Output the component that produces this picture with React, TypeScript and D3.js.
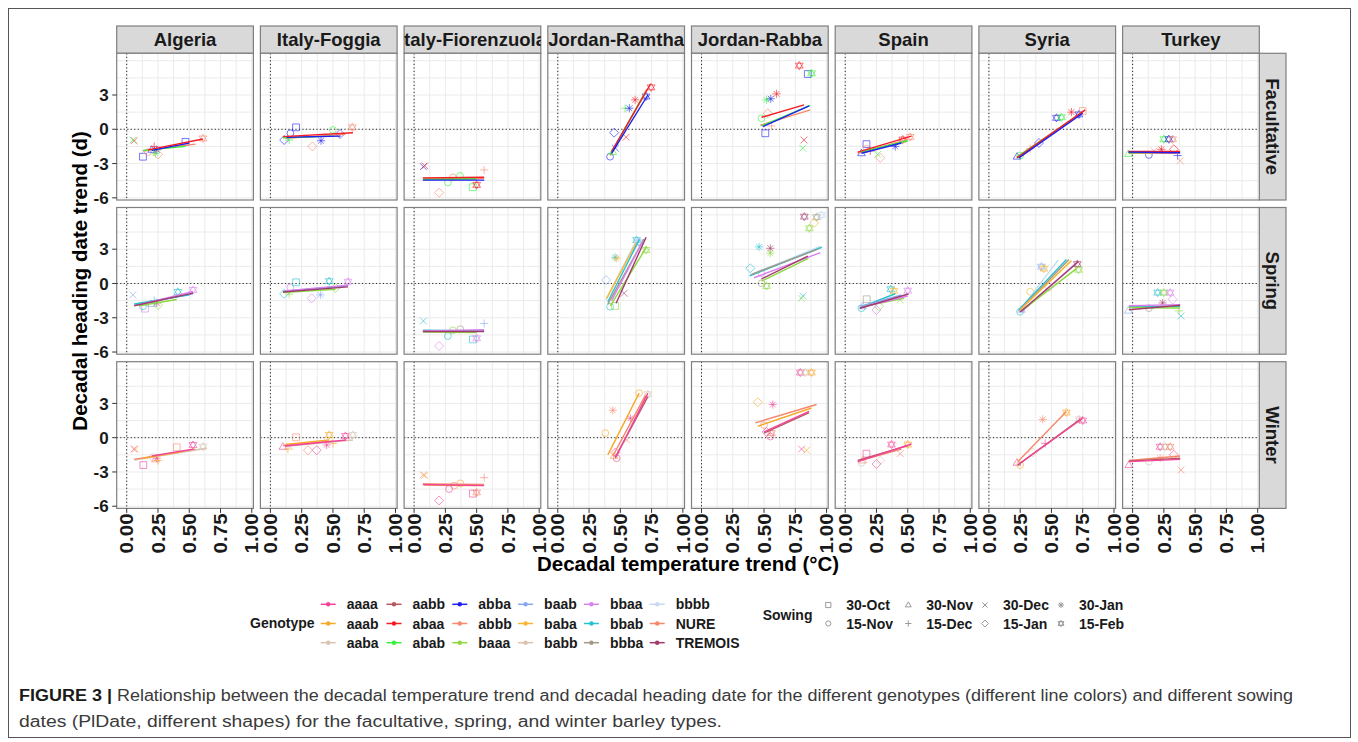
import React from 'react'
import * as d3 from 'd3'

// facets
const sites = ['Algeria', 'Italy-Foggia', 'Italy-Fiorenzuola', 'Jordan-Ramtha', 'Jordan-Rabba', 'Spain', 'Syria', 'Turkey']
const types = ['Facultative', 'Spring', 'Winter']

// legend: genotypes (filled column-wise, 3 rows) and sowing dates
const genotypes = ['aaaa', 'aaab', 'aaba', 'aabb', 'abaa', 'abab', 'abba', 'abbb', 'baaa', 'baab', 'baba', 'babb', 'bbaa', 'bbab', 'bbba', 'bbbb', 'NURE', 'TREMOIS']
const genotypeColors = ['#F2449B', '#F6A828', '#D9C4B2', '#B5585D', '#F21D24', '#36F03A', '#1F1FF0', '#F6896E', '#8BD93F', '#85A9EE', '#F8B531', '#DBC3AE', '#DA80EE', '#27C1CF', '#A29A87', '#C5DAF0', '#F5876A', '#A23A6E']
const sowings = ['30-Oct', '15-Nov', '30-Nov', '15-Dec', '30-Dec', '15-Jan', '30-Jan', '15-Feb']
const sowingShapes = ['square', 'circle', 'triangle', 'plus', 'cross', 'diamond', 'asterisk', 'star']

const xTicks = [0, 0.25, 0.5, 0.75, 1]
const yTicks = [-6, -3, 0, 3]

// [site, sowing, genotype, temperature trend, heading date trend]
type Pt = [string, string, string, number, number]
// [site, genotype, x1, y1, x2, y2]
type Ln = [string, string, number, number, number, number]

const facultativePoints: Pt[] = [
  ['Algeria', '30-Dec', 'abaa', 0.06, -1.0], ['Algeria', '30-Dec', 'abab', 0.05, -0.95],
  ['Algeria', '30-Oct', 'abba', 0.13, -2.4], ['Algeria', '15-Nov', 'abbb', 0.17, -2.0],
  ['Algeria', '30-Nov', 'abba', 0.2, -1.8], ['Algeria', '15-Dec', 'abaa', 0.22, -1.5],
  ['Algeria', '30-Jan', 'abba', 0.24, -1.8], ['Algeria', '30-Jan', 'abab', 0.23, -2.1],
  ['Algeria', '15-Jan', 'abbb', 0.25, -2.2], ['Algeria', '30-Oct', 'abba', 0.47, -1.1],
  ['Algeria', '15-Feb', 'abbb', 0.61, -0.8],
  ['Italy-Foggia', '15-Jan', 'abba', 0.11, -0.94], ['Italy-Foggia', '15-Dec', 'abab', 0.15, -0.94],
  ['Italy-Foggia', '15-Nov', 'abba', 0.16, -0.35], ['Italy-Foggia', '30-Oct', 'abba', 0.205, 0.17],
  ['Italy-Foggia', '15-Jan', 'abbb', 0.335, -1.5], ['Italy-Foggia', '30-Jan', 'abba', 0.405, -1.0],
  ['Italy-Foggia', '15-Nov', 'abab', 0.5, -0.06], ['Italy-Foggia', '15-Jan', 'abba', 0.557, -0.41],
  ['Italy-Foggia', '15-Feb', 'abbb', 0.655, 0.17],
  ['Italy-Fiorenzuola', '30-Dec', 'abba', 0.074, -3.27], ['Italy-Fiorenzuola', '30-Dec', 'abaa', 0.085, -3.2],
  ['Italy-Fiorenzuola', '15-Jan', 'abbb', 0.2, -5.55], ['Italy-Fiorenzuola', '15-Nov', 'abab', 0.27, -4.65],
  ['Italy-Fiorenzuola', '15-Nov', 'abbb', 0.31, -4.2], ['Italy-Fiorenzuola', '15-Nov', 'abab', 0.367, -4.08],
  ['Italy-Fiorenzuola', '30-Oct', 'abab', 0.469, -5.07], ['Italy-Fiorenzuola', '15-Feb', 'abaa', 0.5, -4.87],
  ['Italy-Fiorenzuola', '15-Dec', 'abbb', 0.56, -3.56],
  ['Jordan-Ramtha', '15-Nov', 'abba', 0.418, -2.4], ['Jordan-Ramtha', '30-Nov', 'abab', 0.44, -2.0],
  ['Jordan-Ramtha', '30-Dec', 'abba', 0.46, -1.65], ['Jordan-Ramtha', '15-Jan', 'abba', 0.45, -0.3],
  ['Jordan-Ramtha', '30-Dec', 'abaa', 0.546, -0.7], ['Jordan-Ramtha', '15-Dec', 'abab', 0.538, 1.84],
  ['Jordan-Ramtha', '30-Jan', 'abba', 0.572, 1.84], ['Jordan-Ramtha', '30-Jan', 'abaa', 0.618, 2.58],
  ['Jordan-Ramtha', '15-Feb', 'abba', 0.706, 2.87], ['Jordan-Ramtha', '15-Feb', 'abaa', 0.746, 3.67],
  ['Jordan-Rabba', '15-Feb', 'abaa', 0.782, 5.57], ['Jordan-Rabba', '30-Oct', 'abba', 0.85, 4.84],
  ['Jordan-Rabba', '15-Feb', 'abab', 0.88, 4.9], ['Jordan-Rabba', '30-Jan', 'abab', 0.52, 2.58],
  ['Jordan-Rabba', '30-Jan', 'abba', 0.554, 2.67], ['Jordan-Rabba', '30-Jan', 'abaa', 0.6, 3.1],
  ['Jordan-Rabba', '15-Nov', 'abab', 0.48, 0.96], ['Jordan-Rabba', '15-Jan', 'abbb', 0.53, 1.4],
  ['Jordan-Rabba', '30-Oct', 'abba', 0.51, -0.35], ['Jordan-Rabba', '30-Dec', 'abaa', 0.82, -0.94],
  ['Jordan-Rabba', '30-Dec', 'abab', 0.81, -1.66], ['Jordan-Rabba', '15-Dec', 'abbb', 0.56, 0.29],
  ['Spain', '30-Oct', 'abba', 0.17, -1.3], ['Spain', '15-Nov', 'abbb', 0.17, -1.7],
  ['Spain', '30-Nov', 'abba', 0.13, -2.1], ['Spain', '15-Dec', 'abaa', 0.2, -1.9],
  ['Spain', '30-Dec', 'abab', 0.26, -2.2], ['Spain', '15-Jan', 'abbb', 0.28, -2.5],
  ['Spain', '30-Jan', 'abba', 0.4, -1.5], ['Spain', '15-Feb', 'abaa', 0.46, -0.9],
  ['Spain', '15-Feb', 'abbb', 0.52, -0.67],
  ['Syria', '30-Nov', 'abba', 0.225, -2.4], ['Syria', '15-Nov', 'abab', 0.25, -2.3],
  ['Syria', '15-Dec', 'abbb', 0.33, -1.7], ['Syria', '15-Jan', 'abba', 0.4, -1.2],
  ['Syria', '15-Feb', 'abba', 0.54, 1.0], ['Syria', '15-Feb', 'abab', 0.58, 1.05],
  ['Syria', '30-Jan', 'abaa', 0.66, 1.5], ['Syria', '15-Feb', 'abba', 0.72, 1.3],
  ['Syria', '30-Oct', 'abbb', 0.75, 1.6],
  ['Turkey', '30-Nov', 'abab', -0.034, -2.16], ['Turkey', '15-Nov', 'abba', 0.13, -2.25],
  ['Turkey', '30-Dec', 'abbb', 0.17, -1.9], ['Turkey', '30-Jan', 'abaa', 0.23, -1.75],
  ['Turkey', '15-Feb', 'abab', 0.25, -0.87], ['Turkey', '15-Feb', 'abba', 0.29, -0.87],
  ['Turkey', '15-Feb', 'abbb', 0.32, -0.87], ['Turkey', '15-Jan', 'abaa', 0.33, -1.75],
  ['Turkey', '15-Dec', 'abba', 0.36, -2.3], ['Turkey', '30-Dec', 'abbb', 0.38, -2.75],
]

const springPoints: Pt[] = [
  ['Algeria', '30-Dec', 'baab', 0.05, -1.0], ['Algeria', '30-Oct', 'bbaa', 0.146, -2.2],
  ['Algeria', '15-Nov', 'bbab', 0.13, -2.0], ['Algeria', '30-Nov', 'baab', 0.2, -1.8],
  ['Algeria', '15-Dec', 'bbab', 0.22, -1.5], ['Algeria', '30-Jan', 'TREMOIS', 0.24, -1.7],
  ['Algeria', '15-Jan', 'baaa', 0.25, -1.9], ['Algeria', '15-Feb', 'bbab', 0.41, -0.74],
  ['Algeria', '15-Feb', 'bbaa', 0.53, -0.57],
  ['Italy-Foggia', '15-Jan', 'bbab', 0.11, -0.9], ['Italy-Foggia', '15-Dec', 'baaa', 0.15, -0.94],
  ['Italy-Foggia', '15-Nov', 'bbaa', 0.16, -0.35], ['Italy-Foggia', '30-Oct', 'bbab', 0.205, 0.1],
  ['Italy-Foggia', '15-Jan', 'bbaa', 0.33, -1.3], ['Italy-Foggia', '30-Jan', 'baab', 0.4, -1.0],
  ['Italy-Foggia', '15-Feb', 'bbab', 0.47, 0.2], ['Italy-Foggia', '15-Jan', 'baaa', 0.52, -0.4],
  ['Italy-Foggia', '15-Feb', 'bbaa', 0.62, 0.15],
  ['Italy-Fiorenzuola', '30-Dec', 'bbab', 0.074, -3.28], ['Italy-Fiorenzuola', '15-Jan', 'bbaa', 0.2, -5.47],
  ['Italy-Fiorenzuola', '15-Nov', 'bbab', 0.27, -4.6], ['Italy-Fiorenzuola', '15-Nov', 'baaa', 0.31, -4.1],
  ['Italy-Fiorenzuola', '15-Nov', 'bbba', 0.37, -4.0], ['Italy-Fiorenzuola', '30-Oct', 'bbab', 0.47, -4.9],
  ['Italy-Fiorenzuola', '15-Feb', 'bbaa', 0.5, -4.8], ['Italy-Fiorenzuola', '15-Dec', 'baab', 0.56, -3.5],
  ['Jordan-Ramtha', '30-Jan', 'bbab', 0.458, 2.29], ['Jordan-Ramtha', '30-Jan', 'baba', 0.47, 2.2],
  ['Jordan-Ramtha', '15-Jan', 'baab', 0.386, 0.3], ['Jordan-Ramtha', '15-Nov', 'bbab', 0.418, -2.03],
  ['Jordan-Ramtha', '30-Oct', 'baaa', 0.458, -1.97], ['Jordan-Ramtha', '30-Dec', 'TREMOIS', 0.53, -0.86],
  ['Jordan-Ramtha', '15-Feb', 'bbab', 0.63, 3.8], ['Jordan-Ramtha', '15-Feb', 'baab', 0.65, 3.6],
  ['Jordan-Ramtha', '15-Feb', 'baaa', 0.706, 2.93],
  ['Jordan-Rabba', '15-Feb', 'TREMOIS', 0.822, 5.85], ['Jordan-Rabba', '15-Feb', 'bbba', 0.92, 5.8],
  ['Jordan-Rabba', '15-Feb', 'bbbb', 0.96, 6.0], ['Jordan-Rabba', '15-Jan', 'baba', 0.9, 5.3],
  ['Jordan-Rabba', '15-Feb', 'baaa', 0.862, 4.83], ['Jordan-Rabba', '30-Jan', 'bbab', 0.46, 3.2],
  ['Jordan-Rabba', '30-Jan', 'TREMOIS', 0.55, 3.08], ['Jordan-Rabba', '30-Jan', 'baaa', 0.55, 2.65],
  ['Jordan-Rabba', '15-Jan', 'bbab', 0.39, 1.33], ['Jordan-Rabba', '15-Nov', 'bbaa', 0.48, 0.9],
  ['Jordan-Rabba', '15-Nov', 'bbba', 0.48, 0.02], ['Jordan-Rabba', '15-Feb', 'baaa', 0.52, -0.22],
  ['Jordan-Rabba', '30-Dec', 'bbab', 0.81, -1.1], ['Jordan-Rabba', '30-Dec', 'baaa', 0.8, -1.3],
  ['Spain', '30-Oct', 'bbba', 0.172, -1.38], ['Spain', '15-Nov', 'bbab', 0.13, -2.17],
  ['Spain', '30-Nov', 'baab', 0.14, -2.0], ['Spain', '15-Jan', 'bbaa', 0.25, -2.32],
  ['Spain', '15-Jan', 'baaa', 0.27, -2.0], ['Spain', '15-Feb', 'bbab', 0.364, -0.5],
  ['Spain', '15-Feb', 'baba', 0.39, -0.65], ['Spain', '30-Dec', 'baaa', 0.44, -1.44],
  ['Spain', '15-Feb', 'bbaa', 0.5, -0.63],
  ['Syria', '15-Feb', 'baab', 0.42, 1.47], ['Syria', '15-Feb', 'baba', 0.44, 1.3],
  ['Syria', '15-Nov', 'baba', 0.33, -0.72], ['Syria', '15-Nov', 'bbab', 0.249, -2.47],
  ['Syria', '30-Nov', 'baab', 0.26, -2.3], ['Syria', '15-Feb', 'TREMOIS', 0.707, 1.7],
  ['Syria', '15-Feb', 'baaa', 0.717, 1.2], ['Syria', '15-Jan', 'bbaa', 0.48, -0.3],
  ['Turkey', '30-Nov', 'baab', -0.034, -2.38], ['Turkey', '15-Feb', 'bbab', 0.2, -0.8],
  ['Turkey', '15-Feb', 'baaa', 0.25, -0.8], ['Turkey', '15-Feb', 'bbaa', 0.3, -0.8],
  ['Turkey', '15-Jan', 'bbaa', 0.32, -1.4], ['Turkey', '15-Nov', 'bbba', 0.13, -2.16],
  ['Turkey', '30-Jan', 'TREMOIS', 0.24, -1.7], ['Turkey', '30-Dec', 'bbab', 0.387, -2.85],
  ['Turkey', '15-Dec', 'baaa', 0.37, -2.4],
]

const winterPoints: Pt[] = [
  ['Algeria', '30-Dec', 'aaaa', 0.058, -1.0], ['Algeria', '30-Dec', 'aaab', 0.07, -1.0],
  ['Algeria', '30-Oct', 'aaaa', 0.133, -2.4], ['Algeria', '15-Nov', 'aaba', 0.21, -1.7],
  ['Algeria', '30-Nov', 'NURE', 0.23, -1.9], ['Algeria', '30-Jan', 'aaaa', 0.24, -1.8],
  ['Algeria', '15-Dec', 'aaab', 0.25, -2.0], ['Algeria', '30-Oct', 'NURE', 0.4, -0.84],
  ['Algeria', '15-Feb', 'aaaa', 0.53, -0.64], ['Algeria', '15-Feb', 'aaba', 0.61, -0.79],
  ['Italy-Foggia', '30-Nov', 'aaaa', 0.1, -0.8], ['Italy-Foggia', '15-Dec', 'aaab', 0.14, -1.0],
  ['Italy-Foggia', '30-Dec', 'aaba', 0.16, -0.8], ['Italy-Foggia', '30-Oct', 'NURE', 0.205, 0.03],
  ['Italy-Foggia', '15-Jan', 'NURE', 0.3, -1.1], ['Italy-Foggia', '15-Jan', 'aaaa', 0.37, -1.1],
  ['Italy-Foggia', '30-Jan', 'aaaa', 0.45, -0.64], ['Italy-Foggia', '15-Feb', 'aaab', 0.47, 0.24],
  ['Italy-Foggia', '15-Dec', 'aaab', 0.5, -0.5], ['Italy-Foggia', '15-Feb', 'aaaa', 0.6, 0.15],
  ['Italy-Foggia', '15-Feb', 'aaba', 0.66, 0.24],
  ['Italy-Fiorenzuola', '30-Dec', 'NURE', 0.074, -3.26], ['Italy-Fiorenzuola', '30-Dec', 'aaab', 0.085, -3.3],
  ['Italy-Fiorenzuola', '15-Jan', 'aaaa', 0.2, -5.5], ['Italy-Fiorenzuola', '15-Nov', 'aaaa', 0.28, -4.5],
  ['Italy-Fiorenzuola', '15-Nov', 'NURE', 0.32, -4.2], ['Italy-Fiorenzuola', '15-Nov', 'aaab', 0.37, -4.0],
  ['Italy-Fiorenzuola', '30-Oct', 'aaaa', 0.47, -4.9], ['Italy-Fiorenzuola', '15-Feb', 'NURE', 0.5, -4.8],
  ['Italy-Fiorenzuola', '15-Dec', 'NURE', 0.56, -3.5],
  ['Jordan-Ramtha', '15-Nov', 'aaab', 0.38, 0.4], ['Jordan-Ramtha', '30-Jan', 'NURE', 0.44, 2.4],
  ['Jordan-Ramtha', '15-Jan', 'aaaa', 0.46, -1.3], ['Jordan-Ramtha', '15-Nov', 'aaaa', 0.47, -1.8],
  ['Jordan-Ramtha', '30-Nov', 'aaab', 0.45, -1.6], ['Jordan-Ramtha', '30-Jan', 'aaaa', 0.58, 1.7],
  ['Jordan-Ramtha', '15-Nov', 'aaab', 0.65, 3.9], ['Jordan-Ramtha', '15-Feb', 'aaba', 0.72, 3.8],
  ['Jordan-Ramtha', '30-Dec', 'NURE', 0.55, -0.2],
  ['Jordan-Rabba', '15-Feb', 'aaaa', 0.79, 5.7], ['Jordan-Rabba', '15-Feb', 'aaba', 0.83, 5.7],
  ['Jordan-Rabba', '15-Feb', 'aaab', 0.88, 5.7], ['Jordan-Rabba', '15-Jan', 'aaab', 0.45, 3.1],
  ['Jordan-Rabba', '30-Jan', 'aaaa', 0.57, 2.9], ['Jordan-Rabba', '15-Nov', 'NURE', 0.5, 1.1],
  ['Jordan-Rabba', '15-Jan', 'aaaa', 0.52, 0.5], ['Jordan-Rabba', '15-Nov', 'aaaa', 0.55, 0.1],
  ['Jordan-Rabba', '15-Feb', 'NURE', 0.56, 0.4], ['Jordan-Rabba', '30-Dec', 'aaab', 0.84, -1.1],
  ['Jordan-Rabba', '30-Dec', 'aaaa', 0.8, -1.0],
  ['Spain', '30-Oct', 'aaaa', 0.17, -1.4], ['Spain', '15-Nov', 'aaba', 0.13, -2.2],
  ['Spain', '30-Nov', 'NURE', 0.14, -2.0], ['Spain', '15-Jan', 'aaaa', 0.25, -2.3],
  ['Spain', '15-Jan', 'aaba', 0.28, -2.0], ['Spain', '15-Feb', 'aaaa', 0.37, -0.6],
  ['Spain', '30-Dec', 'NURE', 0.44, -1.4], ['Spain', '15-Feb', 'aaab', 0.5, -0.6],
  ['Syria', '30-Nov', 'aaaa', 0.225, -2.2], ['Syria', '15-Nov', 'aaab', 0.25, -2.4],
  ['Syria', '15-Jan', 'aaba', 0.35, -1.3], ['Syria', '30-Jan', 'NURE', 0.43, 1.6],
  ['Syria', '15-Dec', 'aaaa', 0.45, -0.5], ['Syria', '15-Feb', 'aaab', 0.62, 2.2],
  ['Syria', '15-Feb', 'aaba', 0.72, 1.6], ['Syria', '15-Feb', 'aaaa', 0.75, 1.5],
  ['Turkey', '30-Nov', 'aaaa', -0.03, -2.4], ['Turkey', '15-Nov', 'aaba', 0.13, -2.1],
  ['Turkey', '30-Jan', 'NURE', 0.22, -1.8], ['Turkey', '15-Feb', 'aaaa', 0.22, -0.8],
  ['Turkey', '15-Feb', 'aaba', 0.26, -0.8], ['Turkey', '15-Feb', 'NURE', 0.3, -0.8],
  ['Turkey', '15-Jan', 'aaaa', 0.33, -1.5], ['Turkey', '30-Dec', 'NURE', 0.387, -2.83],
]

const facultativeLines: Ln[] = [
  ['Algeria', 'abbb', 0.13, -1.9, 0.55, -1.3], ['Algeria', 'abab', 0.13, -1.85, 0.47, -1.5],
  ['Algeria', 'abba', 0.2, -1.85, 0.5, -1.2], ['Algeria', 'abaa', 0.17, -1.8, 0.61, -0.85],
  ['Italy-Foggia', 'abbb', 0.12, -0.8, 0.6, -0.45], ['Italy-Foggia', 'abab', 0.1, -0.75, 0.5, -0.6],
  ['Italy-Foggia', 'abba', 0.13, -0.7, 0.56, -0.6], ['Italy-Foggia', 'abaa', 0.1, -0.64, 0.66, -0.3],
  ['Italy-Fiorenzuola', 'abbb', 0.07, -4.3, 0.56, -4.3], ['Italy-Fiorenzuola', 'abab', 0.07, -4.4, 0.5, -4.35],
  ['Italy-Fiorenzuola', 'abba', 0.07, -4.45, 0.56, -4.45], ['Italy-Fiorenzuola', 'abaa', 0.07, -4.25, 0.56, -4.2],
  ['Jordan-Ramtha', 'abbb', 0.42, -2.3, 0.71, 3.5], ['Jordan-Ramtha', 'abab', 0.42, -2.2, 0.7, 3.2],
  ['Jordan-Ramtha', 'abaa', 0.43, -1.96, 0.74, 3.94], ['Jordan-Ramtha', 'abba', 0.43, -2.1, 0.72, 3.0],
  ['Jordan-Rabba', 'abbb', 0.47, 0.35, 0.87, 1.7], ['Jordan-Rabba', 'abab', 0.48, 0.3, 0.87, 2.1],
  ['Jordan-Rabba', 'abba', 0.49, 0.23, 0.86, 2.04], ['Jordan-Rabba', 'abaa', 0.48, 1.05, 0.82, 2.13],
  ['Spain', 'abbb', 0.1, -2.1, 0.5, -0.9], ['Spain', 'abab', 0.12, -2.0, 0.5, -1.0],
  ['Spain', 'abba', 0.13, -2.1, 0.45, -1.2], ['Spain', 'abaa', 0.1, -2.0, 0.53, -0.6],
  ['Syria', 'abbb', 0.22, -2.45, 0.76, 1.6], ['Syria', 'abab', 0.23, -2.4, 0.73, 1.3],
  ['Syria', 'abaa', 0.225, -2.5, 0.77, 1.7], ['Syria', 'abba', 0.24, -2.5, 0.75, 1.4],
  ['Turkey', 'abbb', -0.03, -2.1, 0.38, -2.1], ['Turkey', 'abab', -0.034, -2.05, 0.38, -2.0],
  ['Turkey', 'abaa', -0.034, -1.95, 0.38, -1.95], ['Turkey', 'abba', -0.034, -2.0, 0.38, -2.05],
]

const springLines: Ln[] = [
  ['Algeria', 'baab', 0.06, -1.9, 0.53, -0.9], ['Algeria', 'bbab', 0.06, -1.8, 0.5, -1.0],
  ['Algeria', 'baaa', 0.1, -1.95, 0.4, -1.4], ['Algeria', 'bbaa', 0.1, -1.85, 0.53, -0.7],
  ['Algeria', 'TREMOIS', 0.06, -1.95, 0.53, -0.85],
  ['Italy-Foggia', 'bbab', 0.1, -0.7, 0.62, -0.2], ['Italy-Foggia', 'baaa', 0.1, -0.8, 0.52, -0.5],
  ['Italy-Foggia', 'bbaa', 0.11, -0.65, 0.62, -0.15], ['Italy-Foggia', 'TREMOIS', 0.1, -0.75, 0.62, -0.3],
  ['Italy-Fiorenzuola', 'bbab', 0.07, -4.1, 0.56, -4.15], ['Italy-Fiorenzuola', 'baaa', 0.07, -4.25, 0.5, -4.3],
  ['Italy-Fiorenzuola', 'bbaa', 0.07, -4.15, 0.56, -4.05], ['Italy-Fiorenzuola', 'TREMOIS', 0.07, -4.2, 0.56, -4.2],
  ['Jordan-Ramtha', 'bbbb', 0.386, -1.44, 0.636, 3.95], ['Jordan-Ramtha', 'baba', 0.39, -1.3, 0.63, 3.6],
  ['Jordan-Ramtha', 'bbab', 0.4, -1.6, 0.65, 3.8], ['Jordan-Ramtha', 'bbba', 0.4, -1.8, 0.69, 3.9],
  ['Jordan-Ramtha', 'bbaa', 0.43, -1.5, 0.68, 3.7], ['Jordan-Ramtha', 'baaa', 0.42, -1.97, 0.71, 3.2],
  ['Jordan-Ramtha', 'TREMOIS', 0.466, -1.73, 0.706, 4.04],
  ['Jordan-Rabba', 'bbbb', 0.38, 0.7, 0.95, 3.25], ['Jordan-Rabba', 'bbab', 0.386, 0.66, 0.962, 3.17],
  ['Jordan-Rabba', 'bbba', 0.4, 0.8, 0.93, 3.0], ['Jordan-Rabba', 'bbaa', 0.42, 0.5, 0.95, 2.7],
  ['Jordan-Rabba', 'baaa', 0.48, 0.2, 0.854, 2.2], ['Jordan-Rabba', 'TREMOIS', 0.48, 0.4, 0.85, 2.4],
  ['Spain', 'bbab', 0.12, -2.1, 0.4, -0.9], ['Spain', 'baab', 0.12, -2.0, 0.45, -1.0],
  ['Spain', 'baaa', 0.15, -2.0, 0.47, -1.3], ['Spain', 'bbaa', 0.13, -2.1, 0.5, -1.1],
  ['Spain', 'TREMOIS', 0.118, -2.17, 0.505, -0.92],
  ['Syria', 'bbbb', 0.24, -2.47, 0.555, 2.06], ['Syria', 'bbab', 0.24, -2.3, 0.62, 2.1],
  ['Syria', 'bbba', 0.24, -2.4, 0.64, 2.1], ['Syria', 'baba', 0.25, -2.3, 0.66, 2.0],
  ['Syria', 'bbaa', 0.26, -2.5, 0.69, 1.7], ['Syria', 'baaa', 0.26, -2.4, 0.7, 1.3],
  ['Syria', 'TREMOIS', 0.25, -2.5, 0.715, 1.9],
  ['Turkey', 'bbab', -0.03, -2.0, 0.38, -2.0], ['Turkey', 'baaa', -0.03, -2.1, 0.38, -2.15],
  ['Turkey', 'bbaa', -0.03, -1.95, 0.38, -1.85], ['Turkey', 'TREMOIS', -0.03, -2.3, 0.38, -1.9],
]

const winterLines: Ln[] = [
  ['Algeria', 'aaba', 0.06, -1.95, 0.64, -0.93], ['Algeria', 'NURE', 0.06, -1.9, 0.55, -1.0],
  ['Algeria', 'aaab', 0.13, -1.8, 0.45, -1.2], ['Algeria', 'aaaa', 0.2, -1.6, 0.53, -1.0],
  ['Italy-Foggia', 'aaba', 0.12, -0.75, 0.66, -0.2], ['Italy-Foggia', 'aaab', 0.12, -0.6, 0.47, -0.2],
  ['Italy-Foggia', 'NURE', 0.1, -0.7, 0.5, -0.3], ['Italy-Foggia', 'aaaa', 0.117, -0.73, 0.605, -0.2],
  ['Italy-Fiorenzuola', 'aaab', 0.08, -4.15, 0.5, -4.2], ['Italy-Fiorenzuola', 'NURE', 0.07, -4.05, 0.56, -4.1],
  ['Italy-Fiorenzuola', 'aaaa', 0.07, -4.1, 0.56, -4.2],
  ['Jordan-Ramtha', 'aaab', 0.4, -1.5, 0.65, 3.9], ['Jordan-Ramtha', 'NURE', 0.44, -1.6, 0.7, 3.7],
  ['Jordan-Ramtha', 'aabb', 0.46, -1.7, 0.72, 3.6], ['Jordan-Ramtha', 'aaaa', 0.46, -1.8, 0.72, 3.9],
  ['Jordan-Rabba', 'NURE', 0.43, 1.3, 0.92, 2.9], ['Jordan-Rabba', 'aaab', 0.45, 1.0, 0.88, 2.6],
  ['Jordan-Rabba', 'aabb', 0.5, 0.4, 0.86, 2.2], ['Jordan-Rabba', 'aaaa', 0.5, 0.5, 0.86, 2.3],
  ['Spain', 'NURE', 0.12, -2.0, 0.45, -1.0], ['Spain', 'aabb', 0.1, -2.0, 0.5, -0.7],
  ['Spain', 'aaaa', 0.1, -2.1, 0.53, -0.55],
  ['Syria', 'NURE', 0.23, -2.1, 0.62, 2.3], ['Syria', 'aabb', 0.23, -2.4, 0.73, 1.6],
  ['Syria', 'aaaa', 0.24, -2.3, 0.75, 1.7],
  ['Turkey', 'NURE', -0.03, -2.0, 0.38, -1.6], ['Turkey', 'aabb', -0.03, -2.05, 0.38, -1.8],
  ['Turkey', 'aaaa', -0.03, -2.1, 0.38, -1.9],
]

const pointsByType = [facultativePoints, springPoints, winterPoints]
const linesByType = [facultativeLines, springLines, winterLines]

// layout
const W = 1358
const H = 742
const panelX0 = 116.7
const panelY0 = 53.3
const panelW = 136.7
const panelH = 146.7
const gapX = 7
const gapY = 7.5
const stripH = 27.3
const rightStripW = 26.7

const FONT = 'Liberation Sans, Arial, Helvetica, sans-serif'

const colorOf = (g: string) => genotypeColors[genotypes.indexOf(g)]

function shapePath(shape: string, s: number) {
  const t = s * 1.2
  switch (shape) {
    case 'square':
      return `M${-s},${-s}h${2 * s}v${2 * s}h${-2 * s}Z`
    case 'circle':
      return `M${-s},0a${s},${s} 0 1,0 ${2 * s},0a${s},${s} 0 1,0 ${-2 * s},0`
    case 'triangle':
      return `M0,${-t}L${t * 0.95},${t * 0.6}L${-t * 0.95},${t * 0.6}Z`
    case 'plus':
      return `M${-t},0H${t}M0,${-t}V${t}`
    case 'cross':
      return `M${-s},${-s}L${s},${s}M${-s},${s}L${s},${-s}`
    case 'diamond':
      return `M0,${-t * 1.1}L${t * 1.1},0L0,${t * 1.1}L${-t * 1.1},0Z`
    case 'asterisk': {
      const c = s * 0.85
      return `M${-t},0H${t}M0,${-t}V${t}M${-c},${-c}L${c},${c}M${-c},${c}L${c},${-c}`
    }
    default:
      return `M0,${-t}L${t * 0.95},${t * 0.6}L${-t * 0.95},${t * 0.6}ZM0,${t}L${t * 0.95},${-t * 0.6}L${-t * 0.95},${-t * 0.6}Z`
  }
}

export default function App() {
  const x = d3.scaleLinear().domain([-0.08, 1.013]).range([0, panelW])
  const y = d3.scaleLinear().domain([-6.19, 6.65]).range([panelH, 0])

  const minorX = d3.range(0, 1.001, 0.125)
  const minorY = d3.range(-6, 6.01, 1.5)

  const colLeft = (c: number) => panelX0 + c * (panelW + gapX)
  const rowTop = (r: number) => panelY0 + r * (panelH + gapY)
  const bottom = rowTop(2) + panelH
  const panelsMidY = (panelY0 + bottom) / 2

  const legendCols = d3.range(6)
  const legendRows = d3.range(3)

  return (
    <div style={{ position: 'absolute', left: 0, top: 0 }}>
      <svg width={W} height={H} style={{ display: 'block', background: '#fff' }} fontFamily={FONT}>
        <defs>
          <clipPath id="panelClip">
            <rect x={0} y={0} width={panelW} height={panelH} />
          </clipPath>
          <clipPath id="stripClip">
            <rect x={0} y={0} width={panelW} height={stripH} />
          </clipPath>
        </defs>

        {/* figure frame */}
        <rect x={8.5} y={8.5} width={1342} height={729} fill="none" stroke="#555" strokeWidth={1} />

        {/* top strips */}
        {sites.map((s, c) => (
          <g key={s} transform={`translate(${colLeft(c)},${panelY0 - stripH})`}>
            <rect width={panelW} height={stripH} fill="#D9D9D9" stroke="#7F7F7F" strokeWidth={1.2} />
            <g clipPath="url(#stripClip)">
              <text x={panelW / 2} y={stripH / 2} dy="0.36em" textAnchor="middle" fontSize={18.5} fontWeight="bold" fill="#1a1a1a">{s}</text>
            </g>
          </g>
        ))}

        {/* right strips */}
        {types.map((t, r) => (
          <g key={t} transform={`translate(${colLeft(7) + panelW},${rowTop(r)})`}>
            <rect width={rightStripW} height={panelH} fill="#D9D9D9" stroke="#7F7F7F" strokeWidth={1.2} />
            <text transform={`translate(${rightStripW / 2},${panelH / 2}) rotate(90)`} dy="0.36em" textAnchor="middle" fontSize={18.5} fontWeight="bold" fill="#1a1a1a">{t}</text>
          </g>
        ))}

        {/* panels */}
        {types.map((t, r) =>
          sites.map((s, c) => {
            const pts = pointsByType[r].filter(p => p[0] === s)
            const lns = linesByType[r].filter(l => l[0] === s)
            return (
              <g key={`${t}-${s}`} transform={`translate(${colLeft(c)},${rowTop(r)})`}>
                <rect width={panelW} height={panelH} fill="#fff" />
                {minorX.map(v => (
                  <line key={`gx${v}`} x1={x(v)} x2={x(v)} y1={0} y2={panelH} stroke="#EBEBEB" strokeWidth={1} />
                ))}
                {minorY.map(v => (
                  <line key={`gy${v}`} x1={0} x2={panelW} y1={y(v)} y2={y(v)} stroke="#EBEBEB" strokeWidth={1} />
                ))}
                <line x1={x(0)} x2={x(0)} y1={0} y2={panelH} stroke="#222" strokeWidth={1} strokeDasharray="1.2,2.3" />
                <line x1={0} x2={panelW} y1={y(0)} y2={y(0)} stroke="#222" strokeWidth={1} strokeDasharray="1.2,2.3" />
                <g clipPath="url(#panelClip)">
                  {pts.map((p, i) => (
                    <path key={`p${i}`} transform={`translate(${x(p[3])},${y(p[4])})`}
                      d={shapePath(sowingShapes[sowings.indexOf(p[1])], 3.4)}
                      fill="none" stroke={colorOf(p[2])} strokeWidth={1} strokeOpacity={0.6} />
                  ))}
                  {lns.map((l, i) => (
                    <line key={`l${i}`} x1={x(l[2])} y1={y(l[3])} x2={x(l[4])} y2={y(l[5])}
                      stroke={colorOf(l[1])} strokeWidth={1.4} />
                  ))}
                </g>
                <rect width={panelW} height={panelH} fill="none" stroke="#7F7F7F" strokeWidth={1.2} />
              </g>
            )
          })
        )}

        {/* y axis */}
        {types.map((t, r) => (
          <g key={`ya${t}`} transform={`translate(${panelX0},${rowTop(r)})`}>
            {yTicks.map(v => (
              <g key={v} transform={`translate(0,${y(v)})`}>
                <line x1={-4.5} x2={0} stroke="#333" strokeWidth={1} />
                <text x={-8} dy="0.36em" textAnchor="end" fontSize={17} fontWeight="bold" fill="#1a1a1a">{v}</text>
              </g>
            ))}
          </g>
        ))}

        {/* x axes */}
        {sites.map((s, c) => (
          <g key={`xa${s}`} transform={`translate(${colLeft(c)},${bottom})`}>
            {xTicks.map(v => (
              <g key={v} transform={`translate(${x(v)},0)`}>
                <line y1={0} y2={4.5} stroke="#333" strokeWidth={1} />
                <text transform="translate(0,5) rotate(-90)" dy="0.36em" textAnchor="end" fontSize={18.5} fontWeight="bold" fill="#1a1a1a"
                  textLength={40} lengthAdjust="spacingAndGlyphs">{d3.format('.2f')(v)}</text>
              </g>
            ))}
          </g>
        ))}

        {/* axis titles */}
        <text x={688} y={564} dy="0.36em" textAnchor="middle" fontSize={20.5} fontWeight="bold" fill="#000">Decadal temperature trend (°C)</text>
        <text transform={`translate(80,${panelsMidY}) rotate(-90)`} dy="0.36em" textAnchor="middle" fontSize={20.5} fontWeight="bold" fill="#000">Decadal heading date trend (d)</text>

        {/* genotype legend */}
        <text x={250} y={623.3} dy="0.36em" fontSize={14} fontWeight="bold" fill="#1a1a1a">Genotype</text>
        {legendCols.map(c =>
          legendRows.map(r => {
            const g = genotypes[c * 3 + r]
            const lx = 346.7 + c * 65.8
            const ly = 604.3 + r * 19.2
            return (
              <g key={g}>
                <line x1={lx - 26} x2={lx - 11} y1={ly} y2={ly} stroke={colorOf(g)} strokeWidth={1.5} />
                <circle cx={lx - 18.5} cy={ly} r={2.2} fill={colorOf(g)} />
                <text x={lx} y={ly} dy="0.36em" fontSize={14} fontWeight="bold" fill="#1a1a1a">{g}</text>
              </g>
            )
          })
        )}

        {/* sowing legend */}
        <text x={762.7} y={614.5} dy="0.36em" fontSize={14} fontWeight="bold" fill="#1a1a1a">Sowing</text>
        {sowings.map((s, i) => {
          const c = Math.floor(i / 2)
          const r = i % 2
          const sx = [828.3, 908.3, 985, 1061][c]
          const sy = 605 + r * 18.5
          return (
            <g key={s}>
              <path transform={`translate(${sx},${sy})`} d={shapePath(sowingShapes[i], 2.6)} fill="none" stroke="#9a9a9a" strokeWidth={1} />
              <text x={sx + 18} y={sy} dy="0.36em" fontSize={14} fontWeight="bold" fill="#1a1a1a">{s}</text>
            </g>
          )
        })}

        {/* caption */}
        <text x={19} y={701} fontSize={16} fill="#3a3a3a" fontFamily="Liberation Sans Narrow, Liberation Sans, Arial, sans-serif" textLength={1274} lengthAdjust="spacingAndGlyphs">
          <tspan fontWeight="bold" fill="#1a1a1a">FIGURE 3 | </tspan>
          Relationship between the decadal temperature trend and decadal heading date for the different genotypes (different line colors) and different sowing
        </text>
        <text x={19} y={727} fontSize={16} fill="#3a3a3a" fontFamily="Liberation Sans Narrow, Liberation Sans, Arial, sans-serif" textLength={703} lengthAdjust="spacingAndGlyphs">
          dates (PlDate, different shapes) for the facultative, spring, and winter barley types.
        </text>
      </svg>
    </div>
  )
}
